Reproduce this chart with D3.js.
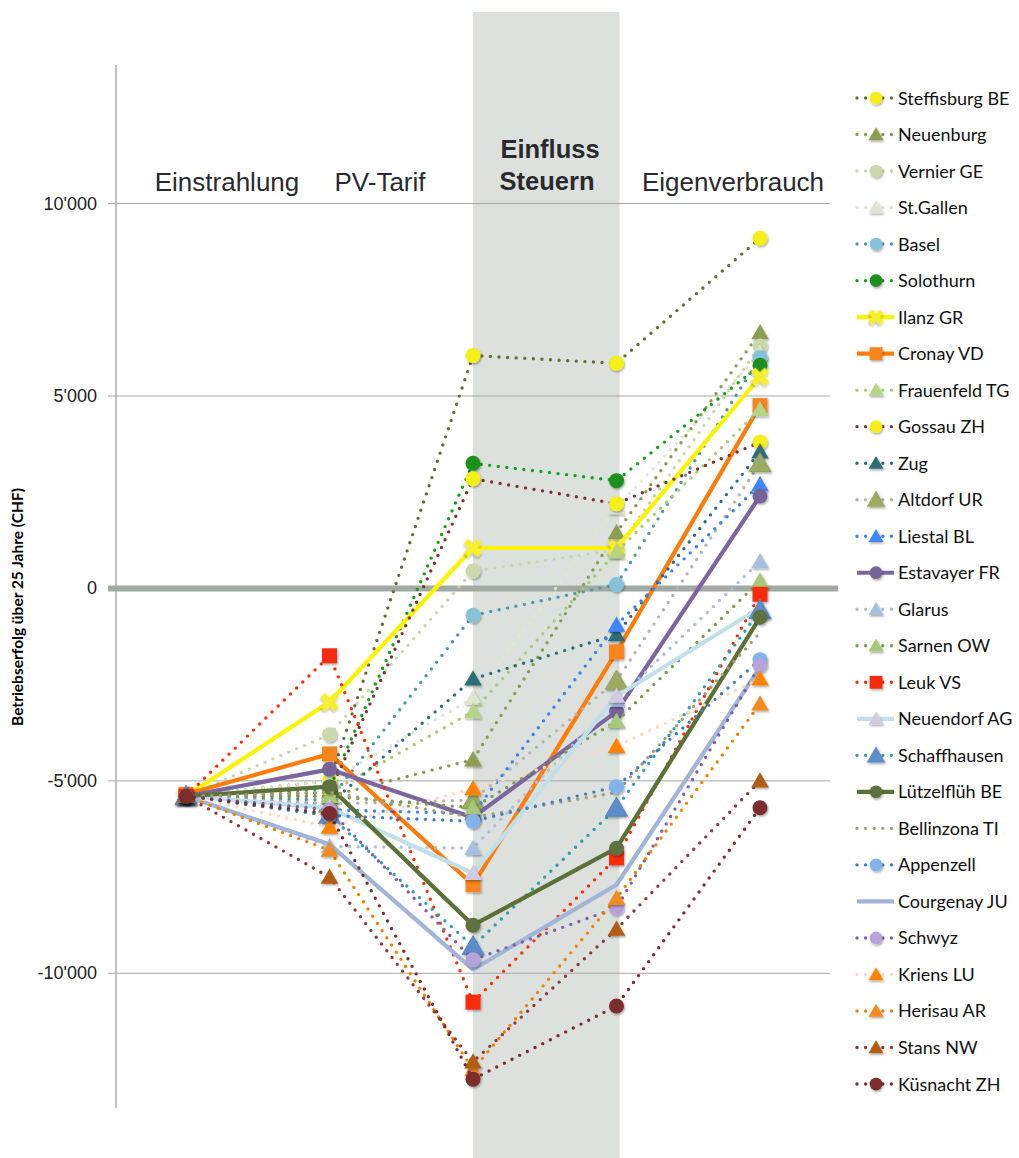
<!DOCTYPE html>
<html>
<head>
<meta charset="utf-8">
<script src="https://cdnjs.cloudflare.com/ajax/libs/d3/7.8.5/d3.min.js"></script>
<style>
  body { margin: 0; background: #fff; }
  svg { display: block; }
</style>
</head>
<body>
<svg id="chart" width="1019" height="1158"></svg>
<script>
/* -------------------------------------------------------------------------- */
// data: 5 stages, one value per stage and municipality (CHF over 25 years)
const stages = ['Einstrahlung', 'PV-Tarif', 'Steuern A', 'Steuern B', 'Eigenverbrauch'];
const yTicks = [-10000, -5000, 0, 5000, 10000];

const names = [
  'Steffisburg BE', 'Neuenburg', 'Vernier GE', 'St.Gallen', 'Basel', 'Solothurn',
  'Ilanz GR', 'Cronay VD', 'Frauenfeld TG', 'Gossau ZH', 'Zug', 'Altdorf UR',
  'Liestal BL', 'Estavayer FR', 'Glarus', 'Sarnen OW', 'Leuk VS', 'Neuendorf AG',
  'Schaffhausen', 'Lützelflüh BE', 'Bellinzona TI', 'Appenzell', 'Courgenay JU',
  'Schwyz', 'Kriens LU', 'Herisau AR', 'Stans NW', 'Küsnacht ZH'
];

const steffisburg  = [-5400, -5000,   6050,   5850,  9100];
const neuenburg    = [-5400, -5400,  -4450,   1450,  6650];
const vernier      = [-5400, -3800,    450,   1000,  6300];
const stgallen     = [-5400, -5000,  -2850,   2100,  6100];
const basel        = [-5400, -5500,   -700,    100,  6000];
const solothurn    = [-5400, -5200,   3250,   2800,  5800];
const ilanz        = [-5400, -2950,   1050,   1050,  5500];
const cronay       = [-5350, -4300,  -7700,  -1650,  4750];
const frauenfeld   = [-5400, -5300,  -3200,    950,  4650];
const gossau       = [-5400, -5300,   2850,   2200,  3800];
const zug          = [-5400, -5600,  -2350,  -1200,  3550];
const altdorf      = [-5400, -5600,  -5500,  -2400,  3250];
const liestal      = [-5400, -5750,  -5850,   -950,  2700];
const estavayer    = [-5400, -4700,  -5950,  -3200,  2400];
const glarus       = [-5400, -6700,  -6750,  -2900,   700];
const sarnen       = [-5400, -5400,  -5700,  -3450,   200];
const leuk         = [-5400, -1750, -10750,  -7000,  -150];
const neuendorf    = [-5400, -5700,  -7400,  -2800,  -500];
const schaffhausen = [-5400, -5900,  -9300,  -5700,  -570];
const luetzelflueh = [-5400, -5150,  -8750,  -6750,  -750];
const bellinzona   = [-5400, -5300,  -5950,  -5300, -1150];
const appenzell    = [-5400, -5900,  -6050,  -5150, -1850];
const courgenay    = [-5400, -6650,  -9900,  -7700, -2050];
const schwyz       = [-5400, -5750,  -9650,  -8300, -2000];
const kriens       = [-5400, -6200,  -5200,  -4100, -2350];
const herisau      = [-5400, -6800, -12500,  -8050, -3000];
const stans        = [-5400, -7500, -12300,  -8850, -5000];
const kuesnacht    = [-5400, -5850, -12750, -10850, -5700];

const seriesValues = [
  steffisburg, neuenburg, vernier, stgallen, basel, solothurn, ilanz, cronay,
  frauenfeld, gossau, zug, altdorf, liestal, estavayer, glarus, sarnen, leuk,
  neuendorf, schaffhausen, luetzelflueh, bellinzona, appenzell, courgenay,
  schwyz, kriens, herisau, stans, kuesnacht
];

/* -------------------------------------------------------------------------- */
// styles: line colour, solid or dotted, marker type, marker colour, marker size
const styles = [
  {line: '#686b38', solid: false, marker: 'circle',   fill: '#f4ef12', size: 7.5},
  {line: '#849c4c', solid: false, marker: 'triangle', fill: '#8c9e52', size: 8},
  {line: '#c9d7aa', solid: false, marker: 'circle',   fill: '#cbd8ab', size: 7.5},
  {line: '#dfe7d0', solid: false, marker: 'triangle', fill: '#dee6cf', size: 8},
  {line: '#4b98ad', solid: false, marker: 'circle',   fill: '#86c3da', size: 7.5},
  {line: '#13a015', solid: false, marker: 'circle',   fill: '#1a8f1e', size: 7.5},
  {line: '#fbf300', solid: true,  marker: 'x',        fill: '#f6ef2a', size: 9},
  {line: '#ff7c0a', solid: true,  marker: 'square',   fill: '#f7841f', size: 7.5},
  {line: '#a9cc74', solid: false, marker: 'triangle', fill: '#b4d486', size: 8},
  {line: '#7b3332', solid: false, marker: 'circle',   fill: '#f4ef12', size: 7.5},
  {line: '#2c6e78', solid: false, marker: 'triangle', fill: '#2e6e78', size: 8},
  {line: '#b4b4b4', solid: false, marker: 'triangle', fill: '#9bab62', size: 10},
  {line: '#3b80f2', solid: false, marker: 'triangle', fill: '#3d86fb', size: 8},
  {line: '#7b66a0', solid: true,  marker: 'circle',   fill: '#76639a', size: 7.5},
  {line: '#a7c0e0', solid: false, marker: 'triangle', fill: '#a7c0e0', size: 8},
  {line: '#7c9a4a', solid: false, marker: 'triangle', fill: '#a9c97a', size: 8},
  {line: '#ff2a00', solid: false, marker: 'square',   fill: '#fa2a0a', size: 7.5},
  {line: '#c0e1ea', solid: true,  marker: 'triangle', fill: '#d3cbe2', size: 8},
  {line: '#2f9db0', solid: false, marker: 'triangle', fill: '#5b8dc9', size: 10},
  {line: '#5b7137', solid: true,  marker: 'circle',   fill: '#5f7140', size: 7.5},
  {line: '#a39f72', solid: false, marker: null,       fill: null,      size: 0},
  {line: '#3d7dc2', solid: false, marker: 'circle',   fill: '#84b3ea', size: 7.5},
  {line: '#a1b5d9', solid: true,  marker: null,       fill: null,      size: 0},
  {line: '#7c5ea2', solid: false, marker: 'circle',   fill: '#b6a3da', size: 7.5},
  {line: '#ffd9bd', solid: false, marker: 'triangle', fill: '#ff8200', size: 8},
  {line: '#f08100', solid: false, marker: 'triangle', fill: '#f28b22', size: 8},
  {line: '#8c3b3b', solid: false, marker: 'triangle', fill: '#b25d12', size: 8},
  {line: '#7a2c2c', solid: false, marker: 'circle',   fill: '#7b2d2d', size: 7.5}
];

/* -------------------------------------------------------------------------- */
const svg = d3.select('#chart');

const x = d3.scalePoint().domain(stages).range([186, 760]);
const y = d3.scaleLinear().domain([-13500, 13600]).range([1108, 65]);

const fmt = v => d3.format(',')(v).replace(/,/g, "'").replace('−', '-');

let defs = svg.append('defs');
let f = defs.append('filter').attr('id', 'shadow')
  .attr('x', '-50%').attr('y', '-50%').attr('width', '200%').attr('height', '200%');
f.append('feDropShadow').attr('dx', 1).attr('dy', 1.5)
  .attr('stdDeviation', 1.2).attr('flood-color', '#000').attr('flood-opacity', 0.35);

// shaded band for the tax stage
svg.append('rect')
  .attr('x', x('Steuern A')).attr('y', 12)
  .attr('width', x('Steuern B') - x('Steuern A') + 3).attr('height', 1146)
  .attr('fill', '#dce1dd');

// gridlines
svg.append('g').selectAll('line')
  .data(yTicks.filter(d => d !== 0))
  .join('line')
  .attr('x1', 108).attr('x2', 830)
  .attr('y1', d => y(d)).attr('y2', d => y(d))
  .attr('stroke', '#a6a6a6').attr('stroke-width', 1);

// y axis line
svg.append('line')
  .attr('x1', 116).attr('x2', 116).attr('y1', 65).attr('y2', 1108)
  .attr('stroke', '#ababab').attr('stroke-width', 1.5);

// zero line
svg.append('line')
  .attr('x1', 108).attr('x2', 838).attr('y1', y(0)).attr('y2', y(0))
  .attr('stroke', '#a2aaa4').attr('stroke-width', 6);

// tick labels
svg.append('g').selectAll('text')
  .data(yTicks)
  .join('text')
  .attr('x', 97).attr('y', d => y(d) + 6)
  .attr('text-anchor', 'end')
  .attr('font-family', 'Liberation Sans, Arial, sans-serif')
  .attr('font-size', 18).attr('fill', '#222')
  .text(d => fmt(d));

// y title
svg.append('text')
  .attr('transform', 'translate(23,' + 607 + ') rotate(-90)')
  .attr('text-anchor', 'middle')
  .attr('font-family', 'Lato, Noto Sans, sans-serif')
  .attr('font-weight', 'bold').attr('font-size', 15.5).attr('fill', '#000')
  .text('Betriebserfolg über 25 Jahre (CHF)');

// stage headers
const headers = svg.append('g')
  .attr('font-family', 'Liberation Sans, Arial, sans-serif')
  .attr('fill', '#2a2a2e').attr('text-anchor', 'middle');

headers.append('text').attr('x', 227).attr('y', 191).attr('font-size', 26).text('Einstrahlung');
headers.append('text').attr('x', 380).attr('y', 191).attr('font-size', 26).text('PV-Tarif');
headers.append('text').attr('x', 733).attr('y', 191).attr('font-size', 26).text('Eigenverbrauch');
let bold = headers.append('text').attr('font-weight', 'bold').attr('font-size', 25.5);
bold.append('tspan').attr('x', 550).attr('y', 158).text('Einfluss');
bold.append('tspan').attr('x', 547).attr('y', 190).text('Steuern');

/* -------------------------------------------------------------------------- */
function markerPath(type, size) {
  if (type === 'circle') return d3.symbol(d3.symbolCircle, Math.PI * size * size)();
  if (type === 'square') return d3.symbol(d3.symbolSquare, 4 * size * size)();
  if (type === 'triangle') return d3.symbol(d3.symbolTriangle, 2.1 * size * size)();
  if (type === 'x') return d3.symbol(d3.symbolCross, 2.6 * size * size)();
  return null;
}

function drawMarker(g, s, cx, cy) {
  if (!s.marker) return;
  let p = g.append('path')
    .attr('d', markerPath(s.marker, s.size))
    .attr('fill', s.fill)
    .attr('filter', 'url(#shadow)');
  let tr = 'translate(' + cx + ',' + cy + ')';
  if (s.marker === 'x') tr += ' rotate(45)';
  if (s.marker === 'triangle') tr += ' translate(0,' + (s.size * 0.2) + ')';
  p.attr('transform', tr);
  if (s.marker === 'triangle' && s.size > 9) {
    p.attr('stroke', d3.color(s.fill).darker(0.2)).attr('stroke-width', 1);
  }
}

function applyLine(sel, s) {
  sel.attr('fill', 'none').attr('stroke', s.line);
  if (s.solid) {
    sel.attr('stroke-width', 4.2).attr('stroke-linejoin', 'round');
  } else {
    sel.attr('stroke-width', 3.4)
       .attr('stroke-linecap', 'round')
       .attr('stroke-dasharray', '0 8.6');
  }
  return sel;
}

const line = d3.line()
  .x((d, i) => x(stages[i]))
  .y(d => y(d));

const plot = svg.append('g');

seriesValues.forEach(function (vals, k) {
  let s = styles[k];
  let g = plot.append('g').attr('class', 'series');
  applyLine(g.append('path').attr('d', line(vals)), s);
  vals.forEach(function (v, i) {
    drawMarker(g, s, x(stages[i]), y(v));
  });
});

/* -------------------------------------------------------------------------- */
// legend
const legend = svg.append('g');
const legendY = d3.scaleLinear().domain([0, names.length - 1]).range([98, 1084]);

names.forEach(function (name, k) {
  let s = styles[k];
  let cy = legendY(k);
  let g = legend.append('g');
  applyLine(g.append('line')
    .attr('x1', 857).attr('x2', 894).attr('y1', cy).attr('y2', cy), s);
  drawMarker(g, Object.assign({}, s, {size: s.size * 0.85}), 876, cy);
  g.append('text')
    .attr('x', 898).attr('y', cy + 6.5)
    .attr('font-family', 'Lato, Noto Sans, sans-serif')
    .attr('font-size', 18).attr('fill', '#111')
    .text(name);
});
</script>
</body>
</html>
